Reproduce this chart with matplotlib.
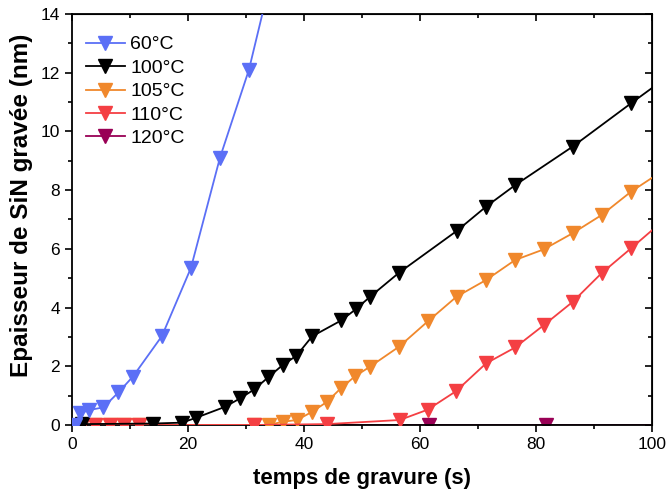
import matplotlib
matplotlib.use("Agg")
import matplotlib.pyplot as plt
from matplotlib.ticker import MultipleLocator

plt.rcParams['font.family'] = ['Liberation Sans', 'DejaVu Sans']

# temps de gravure (s) / epaisseur gravee (nm)
t_60 = [0.5, 1.4, 3.0, 5.4, 8.0, 10.5, 15.5, 20.5, 25.5, 30.5, 35.5]
e_60 = [0.0, 0.40, 0.51, 0.60, 1.11, 1.65, 3.03, 5.35, 9.1, 12.1, 16.2]

t_100 = [1.7, 14.0, 19.0, 21.3, 26.4, 29.0, 31.4, 33.8, 36.3, 38.7, 41.4,
         46.4, 48.9, 51.4, 56.4, 66.4, 71.4, 76.4, 86.3, 96.4, 106.4]
e_100 = [0.03, 0.05, 0.08, 0.24, 0.62, 0.91, 1.21, 1.62, 2.04, 2.36, 3.02,
         3.56, 3.94, 4.37, 5.19, 6.62, 7.44, 8.17, 9.48, 10.96, 12.4]

t_105 = [1.7, 4.0, 6.5, 9.0, 11.5, 31.3, 33.9, 36.3, 38.8, 41.4, 43.9,
         46.4, 48.8, 51.4, 56.4, 61.4, 66.3, 71.4, 76.4, 81.3, 86.3, 91.3, 96.4, 101.4]
e_105 = [0.0, 0.0, 0.0, 0.0, 0.0, 0.0, 0.0, 0.11, 0.17, 0.45, 0.78,
         1.26, 1.66, 1.99, 2.67, 3.54, 4.37, 4.94, 5.62, 5.98, 6.53, 7.15, 7.95, 8.6]

t_110 = [1.7, 4.0, 6.5, 9.0, 11.5, 31.3, 43.9, 56.5, 61.3, 66.2, 71.4,
         76.4, 81.4, 86.3, 91.3, 96.4, 101.4]
e_110 = [0.0, 0.0, 0.0, 0.0, 0.0, 0.0, 0.03, 0.17, 0.52, 1.15, 2.1,
         2.64, 3.41, 4.19, 5.17, 6.02, 6.87]

t_120 = [1.7, 61.5, 81.7, 101.7]
e_120 = [0.0, 0.0, 0.0, 0.0]

labels = ['60°C', '100°C', '105°C', '110°C', '120°C']
colors = ['#5b6ff6', '#000000', '#f0882c', '#f43f43', '#990055']

fig = plt.figure(figsize=(6.67, 4.98), dpi=100)
ax = fig.add_axes([0.108, 0.1466, 0.8695, 0.8253])

series = [(t_60, e_60), (t_100, e_100), (t_105, e_105), (t_110, e_110), (t_120, e_120)]
zorders = [6, 5, 3, 4, 2]
for (t, e), lab, c, z in zip(series, labels, colors, zorders):
    ax.plot(t, e, '-v', color=c, lw=1.3, ms=10, mec=c, label=lab, zorder=z)

ax.set_xlim(0, 100)
ax.set_ylim(0, 14)
ax.xaxis.set_major_locator(MultipleLocator(20))
ax.xaxis.set_minor_locator(MultipleLocator(10))
ax.yaxis.set_major_locator(MultipleLocator(2))
ax.yaxis.set_minor_locator(MultipleLocator(1))
ax.tick_params(which='major', direction='out', length=5, width=1.2, labelsize=12.5)
ax.tick_params(which='minor', direction='out', length=3, width=1.2)
for s in ax.spines.values():
    s.set_linewidth(1.3)

# ticks tournés vers l'intérieur en haut et à droite
top = ax.secondary_xaxis('top')
top.xaxis.set_major_locator(MultipleLocator(20))
top.xaxis.set_minor_locator(MultipleLocator(10))
top.tick_params(which='major', direction='in', length=5, width=1.2, labeltop=False)
top.tick_params(which='minor', direction='in', length=3, width=1.2)
right = ax.secondary_yaxis('right')
right.yaxis.set_major_locator(MultipleLocator(2))
right.yaxis.set_minor_locator(MultipleLocator(1))
right.tick_params(which='major', direction='in', length=5, width=1.2, labelright=False)
right.tick_params(which='minor', direction='in', length=3, width=1.2)

ax.set_xlabel('temps de gravure (s)', fontsize=16, fontweight='bold', labelpad=12)
ax.set_ylabel('Epaisseur de SiN gravée (nm)', fontsize=17.5, fontweight='bold')
ax.yaxis.set_label_coords(-0.068, 0.535)

ax.legend(loc='upper left', frameon=False, fontsize=14, handlelength=2.0,
          handletextpad=0.3, labelspacing=0.3, borderaxespad=0.3,
          bbox_to_anchor=(0.0, 0.98))

fig.savefig('out.png', dpi=100)
